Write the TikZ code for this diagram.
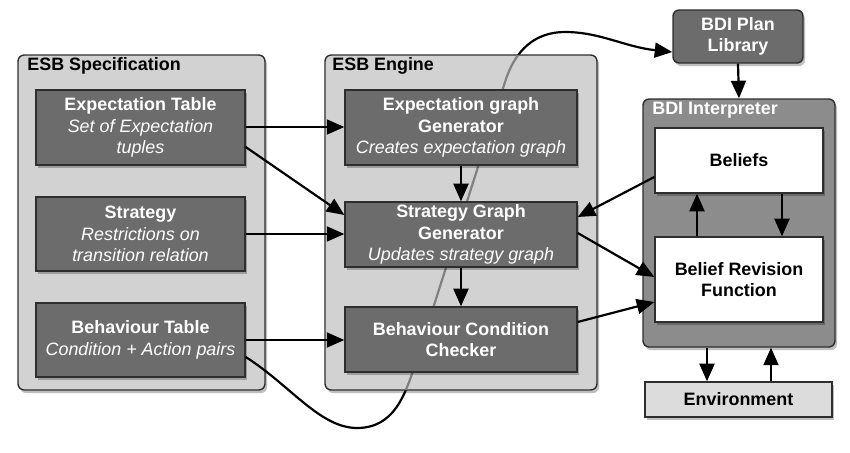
\documentclass[tikz,border=0pt]{standalone}
\usepackage{fontspec}
\setmainfont{Liberation Sans}
\usetikzlibrary{arrows.meta,shadows}

\definecolor{panelgray}{HTML}{D2D2D2}
\definecolor{boxgray}{HTML}{6C6C6C}
\definecolor{bdigray}{HTML}{8C8C8C}
\definecolor{envgray}{HTML}{DCDCDC}
\definecolor{edgegray}{HTML}{2E2E2E}

\newcommand{\descr}[1]{{\mdseries\itshape #1}}
% link from the behaviour table round the engine up to the plan library
\newcommand{\planlink}{(bt.east |- 0,357) .. controls (290,385) and (320,428) .. (357,428)
  .. controls (394,428) and (405,395) .. (415,365) -- (505,82)
  .. controls (515,50) and (535,32) .. (565,32)
  .. controls (600,32) and (625,47) .. (plan.west |- 0,52)}

\begin{document}
\begin{tikzpicture}[x=0.02cm,y=-0.02cm,>={Triangle[length=10pt,width=8.5pt]},font=\fontsize{10.2}{12.2}\selectfont\bfseries]
\tikzstyle{panel}=[draw=edgegray,line width=0.8pt,fill=panelgray,rounded corners=3.5pt,
  drop shadow={shadow xshift=1.2pt,shadow yshift=-1.8pt,opacity=0.25,fill=black}]
\tikzstyle{darkbox}=[draw=edgegray,line width=0.8pt,fill=boxgray,text=white,align=center,inner sep=1pt,
  minimum width=4.18cm,minimum height=1.5cm,
  drop shadow={shadow xshift=1.2pt,shadow yshift=-1.8pt,opacity=0.25,fill=black}]
\tikzstyle{whitebox}=[draw=edgegray,line width=0.8pt,fill=white,align=center,inner sep=1pt,
  minimum width=3.36cm,minimum height=1.3cm,
  drop shadow={shadow xshift=1.2pt,shadow yshift=-1.8pt,opacity=0.25,fill=black}]
\tikzstyle{title}=[anchor=west,inner sep=0pt]
\tikzstyle{flow}=[->,line width=1.25pt]
\useasboundingbox (0,0) rectangle (850,453);

% ESB specification
\node[panel,minimum width=4.94cm,minimum height=6.7cm] (spec) at (141.5,222.5) {};
\node[title] (spectitle) at (27,66) {ESB Specification};
\node[darkbox] (et) at (140.5,127.5) {Expectation Table\\ \descr{Set of Expectation}\\ \descr{tuples}};
\node[darkbox,minimum height=1.48cm] (st) at (140.5,234) {Strategy\\ \descr{Restrictions on}\\ \descr{transition relation}};
\node[darkbox,minimum height=1.48cm] (bt) at (140.5,340) {Behaviour Table\\ \descr{Condition + Action pairs}};

\node[darkbox,rounded corners=3.5pt,minimum width=2.6cm,minimum height=1.06cm] (plan) at (738,36.5) {BDI Plan\\Library};
\draw[flow] \planlink;

% ESB engine, the link shows through it
\node[panel,minimum width=5.44cm,minimum height=6.7cm] (engine) at (461,222.5) {};
\begin{scope}
\clip[rounded corners=3.5pt] ([shift={(0.5pt,-0.5pt)}]engine.north west) rectangle ([shift={(-0.5pt,0.5pt)}]engine.south east);
\draw[line width=1.25pt,gray] \planlink;
\end{scope}
\node[title] (enginetitle) at (332,66) {ESB Engine};
\node[darkbox,minimum width=4.64cm] (egg) at (461,127.5) {Expectation graph\\Generator\\ \descr{Creates expectation graph}};
\node[darkbox,minimum width=4.64cm,minimum height=1.3cm] (sgg) at (461,234.5) {Strategy Graph\\Generator\\ \descr{Updates strategy graph}};
\node[darkbox,minimum width=4.64cm,minimum height=1.3cm] (bcc) at (461,339.5) {Behaviour Condition\\Checker};

% BDI interpreter
\node[panel,fill=bdigray,minimum width=3.84cm,minimum height=4.96cm] (interp) at (739,223) {};
\node[title,text=white] (interptitle) at (652,110) {BDI Interpreter};
\node[whitebox] (beliefs) at (739,160.5) {Beliefs};
\node[whitebox,minimum height=1.7cm] (brf) at (739,279.5) {Belief Revision\\Function};
\node[whitebox,fill=envgray,minimum width=3.74cm,minimum height=0.7cm] (env) at (738.5,399.5) {Environment};

\draw[flow] (et.east |- 0,127) -- (egg.west |- 0,127);
\draw[flow] (et.east |- 0,147) -- (sgg.west |- 0,215);
\draw[flow] (st.east) -- (sgg.west |- st.east);
\draw[flow] (bt.east) -- (bcc.west |- bt.east);
\draw[flow] (egg.south) -- (sgg.north);
\draw[flow] (sgg.south) -- (bcc.north);
\draw[flow] (beliefs.west |- 0,177) -- (sgg.east |- 0,217);
\draw[flow] (sgg.east |- 0,233) -- (brf.west |- 0,277);
\draw[flow] (bcc.east |- 0,322) -- (brf.west |- 0,302);
\draw[flow] (plan.south) -- (interp.north);
\draw[flow] (brf.north -| 697,0) -- (beliefs.south -| 697,0);
\draw[flow] (beliefs.south -| 782,0) -- (brf.north -| 782,0);
\draw[flow] (interp.south -| 707,0) -- (env.north -| 707,0);
\draw[flow] (env.north -| 771,0) -- (interp.south -| 771,0);
\end{tikzpicture}
\end{document}
